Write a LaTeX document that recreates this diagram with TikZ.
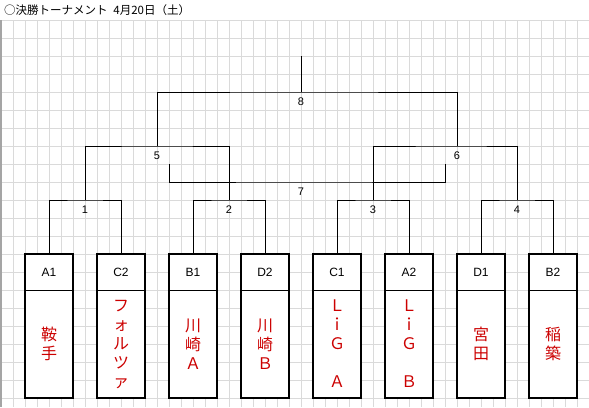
\documentclass[tikz,border=0pt]{standalone}
\usepackage{fontspec}
\setmainfont{Liberation Sans}
\newfontfamily\cjk{Noto Sans CJK JP}
\definecolor{gridc}{RGB}{218,218,218}
\definecolor{edgec}{RGB}{165,165,165}
\definecolor{teamred}{RGB}{204,0,0}
\begin{document}
\begin{tikzpicture}[x=1pt,y=-1pt,
  gridline/.style={draw=gridc, line width=1pt},
  bracket/.style={draw=black, line width=1pt},
  hdr/.style={fill=white, minimum width=48pt, minimum height=36pt, inner sep=0pt, font=\fontsize{12}{14}\selectfont},
  body/.style={fill=white, minimum width=48pt, minimum height=108pt, inner sep=0pt, align=center, text=teamred, font=\cjk\fontsize{16}{19}\selectfont},
  boxline/.style={draw=black, line width=2.5pt},
  numlbl/.style={inner sep=0pt, font=\fontsize{11}{12}\selectfont},
  titlefont/.style={inner sep=0pt, anchor=west, font=\cjk\fontsize{11.5}{13}\selectfont}
]
\useasboundingbox[fill=white] (0,0) rectangle (589,407);
% grid
\foreach \k in {1,...,49} \draw[gridline] ({1+12*\k},20) -- ({1+12*\k},407);
\foreach \k in {0,...,21} \draw[gridline] (1,{20+18*\k}) -- (589,{20+18*\k});
\draw[draw=edgec, line width=1.2pt] (1,20) -- (1,407);
% title
\node[titlefont] (title) at (4,10) {○決勝トーナメント\hspace{0.5em}4月20日（土）};
% team boxes
\foreach \i/\x/\h/\t in {1/49/A1/鞍\\手, 2/121/C2/フ\\ォ\\ル\\ツ\\ァ, 3/193/B1/川\\崎\\Ａ, 4/265/D2/川\\崎\\Ｂ, 5/337/C1/Ｌ\\ｉ\\Ｇ\\　\\Ａ, 6/409/A2/Ｌ\\ｉ\\Ｇ\\　\\Ｂ, 7/481/D1/宮\\田, 8/553/B2/稲\\築}{
  \node[hdr] (h\i) at (\x,272) {\h};
  \node[body] (n\i) at (\x,344) {\t};
  \draw[boxline] (h\i.north west) rectangle (n\i.south east);
  \draw[bracket] (h\i.south west) -- (h\i.south east);
}
% junctions
\coordinate (m1) at (85,200);
\coordinate (m2) at (229,200);
\coordinate (m3) at (373,200);
\coordinate (m4) at (517,200);
\coordinate (m5) at (157,146);
\coordinate (m6) at (457,146);
\coordinate (m8) at (301,92);
\coordinate (top) at (301,56);
\coordinate (m7) at (301,182);
\coordinate (c7l) at (169,164);
\coordinate (c7r) at (445,164);
% brackets
\draw[bracket] (h1.north) |- (m1) -| (h2.north);
\draw[bracket] (h3.north) |- (m2) -| (h4.north);
\draw[bracket] (h5.north) |- (m3) -| (h6.north);
\draw[bracket] (h7.north) |- (m4) -| (h8.north);
\draw[bracket] (m1) |- (m5) -| (m2);
\draw[bracket] (m3) |- (m6) -| (m4);
\draw[bracket] (m5) |- (m8) -| (m6);
\draw[bracket] (m8) -- (top);
\draw[bracket] (c7l) |- (m7) -| (c7r);
% match numbers
\foreach \j in {1,2,3,4,5,6,7,8}{
  \path (m\j) ++(0,10) node[numlbl] (l\j) {\j};
}
\end{tikzpicture}
\end{document}
